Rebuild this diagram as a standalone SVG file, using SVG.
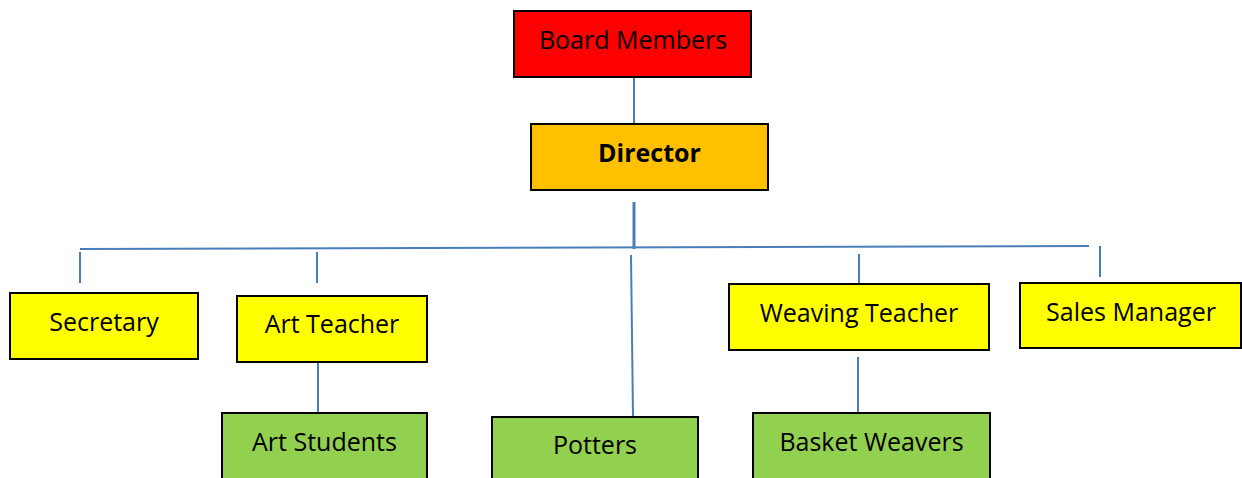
<svg xmlns="http://www.w3.org/2000/svg" width="1242" height="478" viewBox="0 0 1242 478">
<style>
.box{stroke:#000;stroke-width:2}
.red{fill:#FF0000}.orange{fill:#FFC000}.yellow{fill:#FFFF00}.green{fill:#92D050}
text{font-family:"Open Sans","Liberation Sans",sans-serif;font-size:25px;fill:#000;text-anchor:middle}
.bold{font-weight:bold}
.conn line{stroke:#4A7EBB;stroke-width:2;fill:none}
</style>
<rect width="1242" height="478" fill="#fff"/>
<g id="connectors" class="conn">
<line x1="634" y1="77" x2="634" y2="124"/>
<line x1="634" y1="202" x2="634" y2="249" style="stroke-width:3"/>
<line x1="80" y1="249" x2="1089" y2="246"/>
<line x1="80" y1="252" x2="80" y2="283"/>
<line x1="317" y1="252" x2="317" y2="283"/>
<line x1="318" y1="358" x2="318" y2="417"/>
<line x1="631" y1="255" x2="633" y2="417"/>
<line x1="859" y1="254" x2="859" y2="285"/>
<line x1="1100" y1="246" x2="1100" y2="277"/>
<line x1="858" y1="357" x2="858" y2="417"/>
</g>
<g id="board"><rect class="box red" x="514" y="11" width="237" height="66"/><text x="633" y="49">Board Members</text></g>
<g id="director"><rect class="box orange" x="531" y="124" width="237" height="66"/><text class="bold" x="649.5" y="162">Director</text></g>
<g id="secretary"><rect class="box yellow" x="10" y="293" width="188" height="66"/><text x="104" y="331">Secretary</text></g>
<g id="art-teacher"><rect class="box yellow" x="237" y="296" width="190" height="66"/><text x="332" y="333">Art Teacher</text></g>
<g id="weaving-teacher"><rect class="box yellow" x="729" y="284" width="260" height="66"/><text x="859" y="322">Weaving Teacher</text></g>
<g id="sales-manager"><rect class="box yellow" x="1020" y="283" width="221" height="65"/><text x="1131" y="321">Sales Manager</text></g>
<g id="art-students"><rect class="box green" x="222" y="413" width="205" height="70"/><text x="324.5" y="451">Art Students</text></g>
<g id="potters"><rect class="box green" x="492" y="417" width="206" height="70"/><text x="595" y="454">Potters</text></g>
<g id="basket-weavers"><rect class="box green" x="753" y="413" width="237" height="70"/><text x="871.5" y="451">Basket Weavers</text></g>
</svg>
